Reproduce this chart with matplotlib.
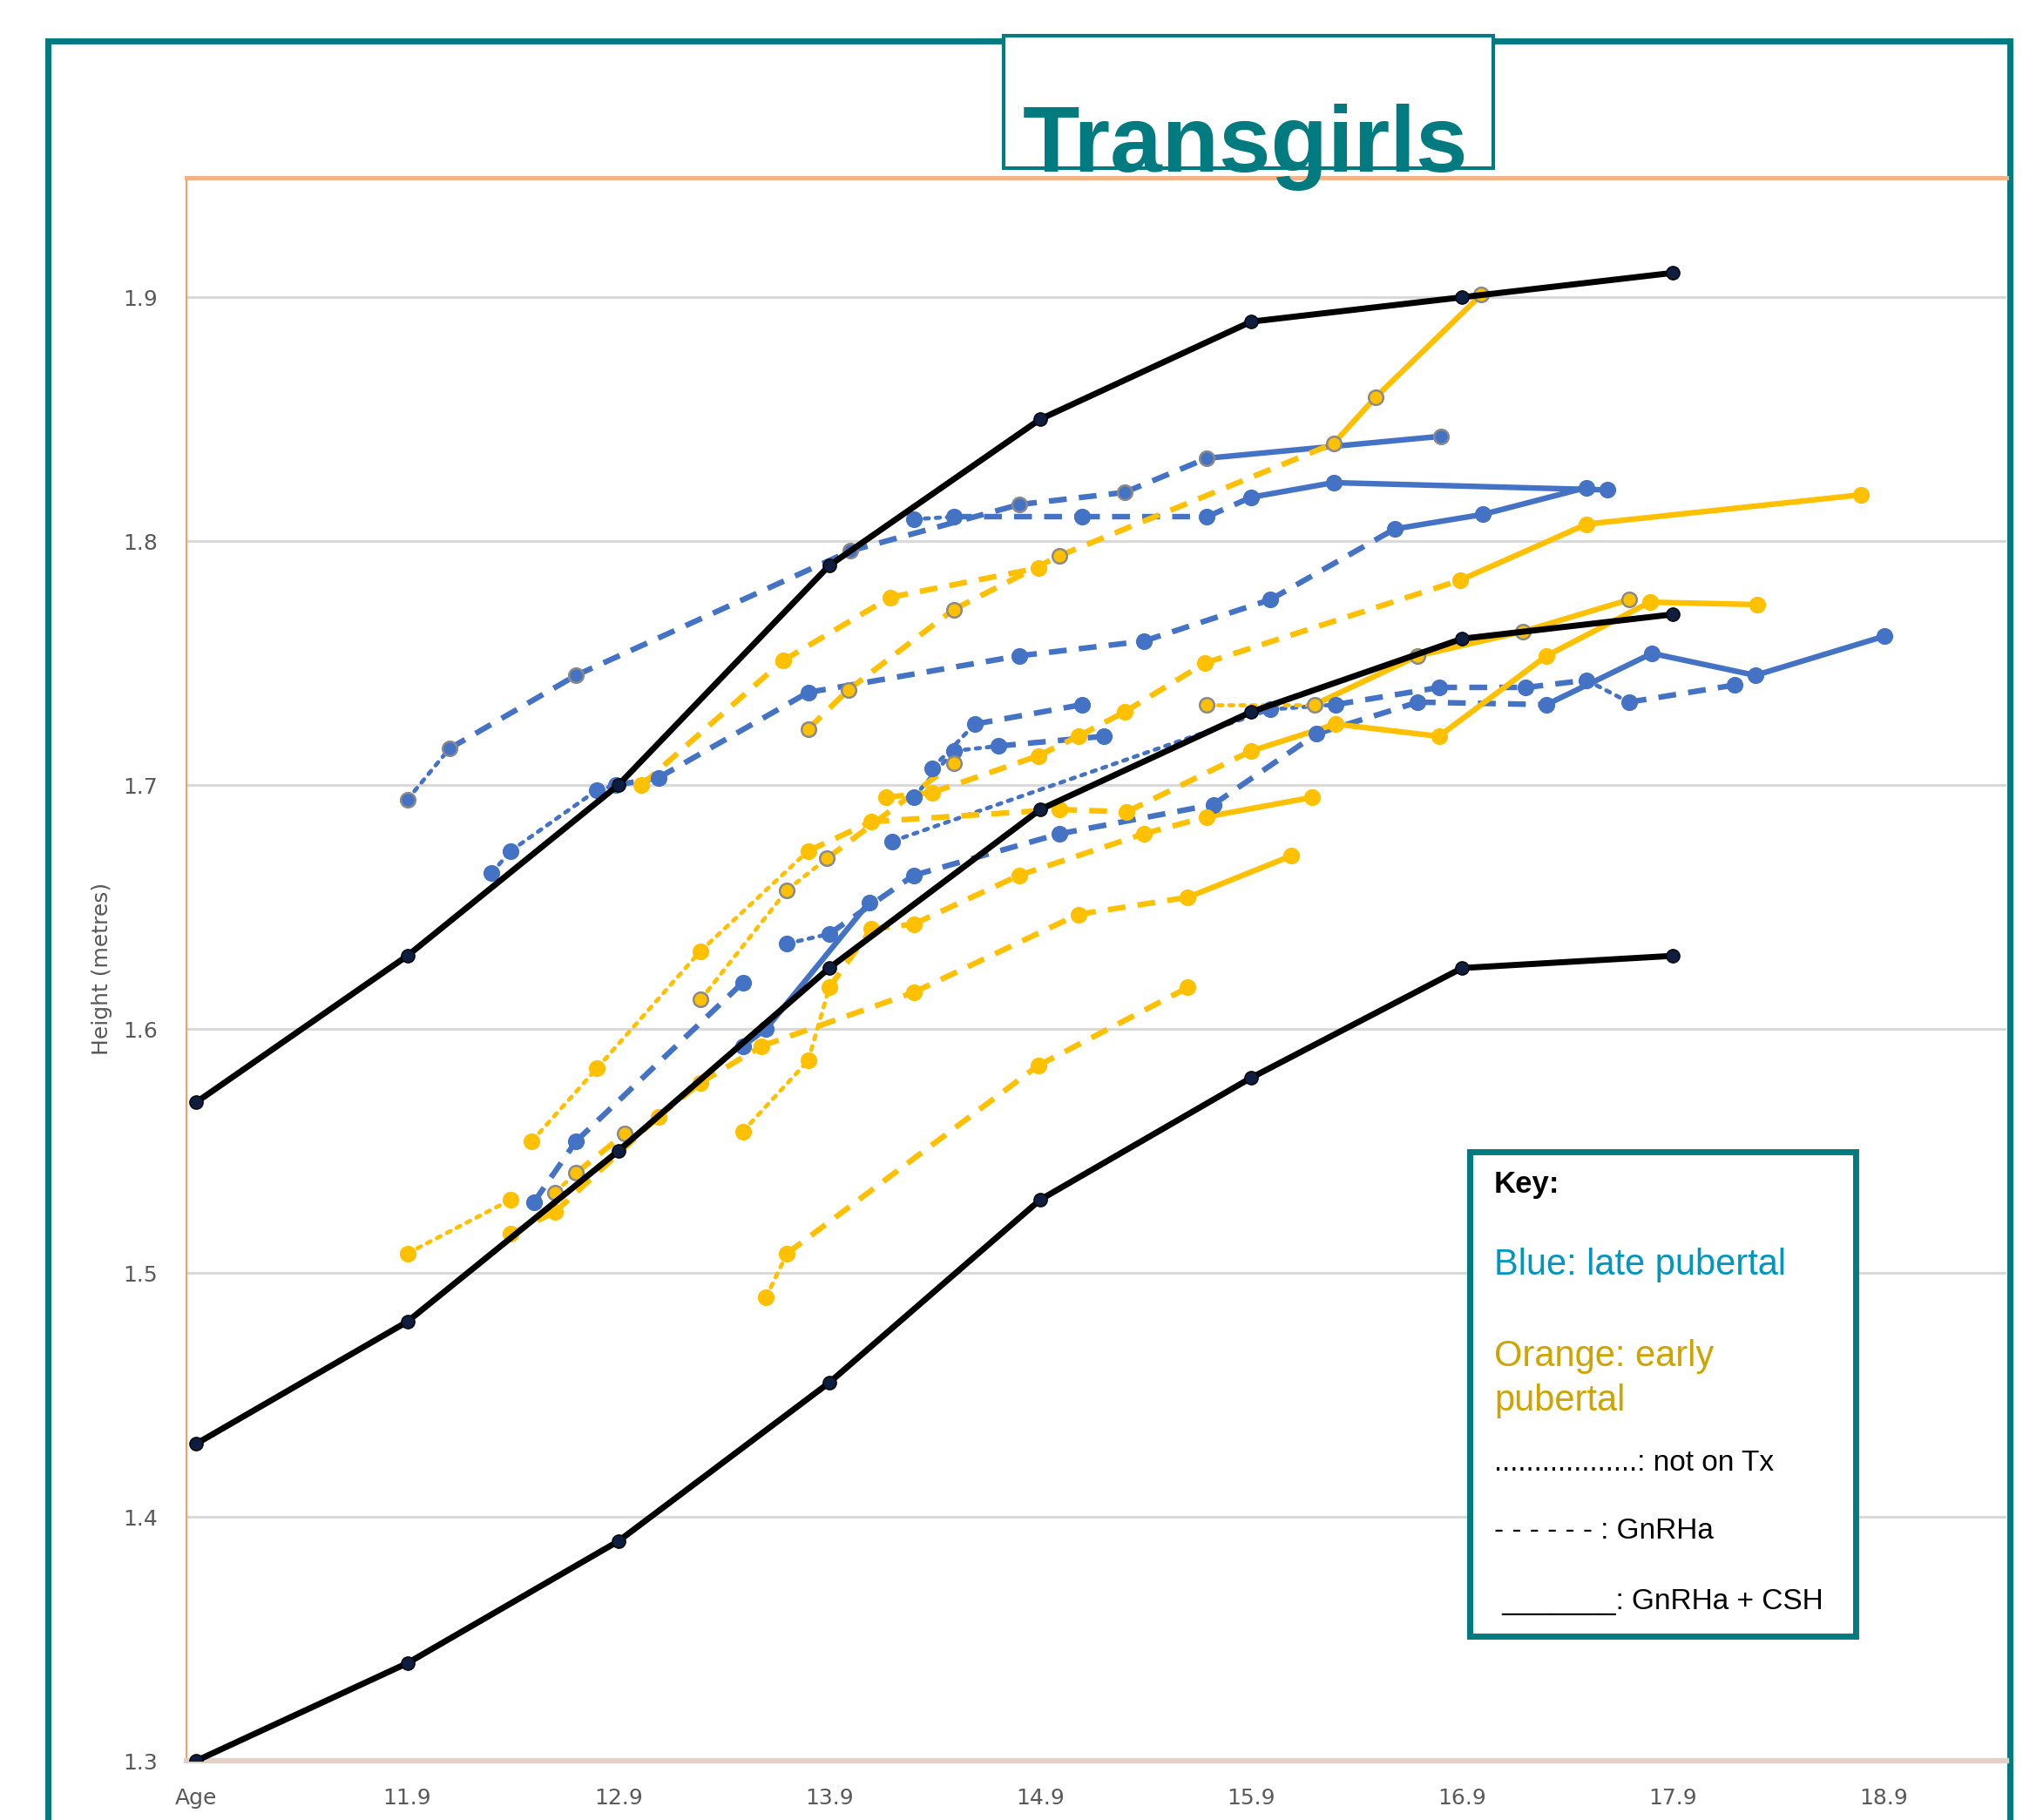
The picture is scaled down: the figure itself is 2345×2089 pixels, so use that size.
import matplotlib
matplotlib.use("Agg")
import matplotlib.pyplot as plt
from matplotlib.patches import Rectangle

# ---- data (age in years, height in metres) ----
ref_age = [10.9, 11.9, 12.9, 13.9, 14.9, 15.9, 16.9, 17.9]
ref_high = [1.57, 1.63, 1.70, 1.79, 1.85, 1.89, 1.90, 1.91]
ref_mid = [1.43, 1.48, 1.55, 1.625, 1.69, 1.73, 1.76, 1.77]
ref_low = [1.30, 1.34, 1.39, 1.455, 1.53, 1.58, 1.625, 1.63]

# late pubertal (blue)
b1_age = [11.9, 12.1, 12.7, 14.0, 14.8, 15.3, 15.69, 16.8]
b1_h = [1.694, 1.715, 1.745, 1.796, 1.815, 1.820, 1.834, 1.843]
b2_age = [14.3, 14.49, 15.1, 15.69, 15.9, 16.29, 17.59]
b2_h = [1.809, 1.810, 1.810, 1.810, 1.818, 1.824, 1.821]
b3_age = [12.3, 12.39, 12.8, 12.89, 13.09, 13.8, 14.8, 15.39, 15.99, 16.58, 17.0, 17.49]
b3_h = [1.664, 1.673, 1.698, 1.700, 1.703, 1.738, 1.753, 1.759, 1.776, 1.805, 1.811, 1.822]
b4_age = [12.5, 12.7, 13.49]
b4_h = [1.529, 1.554, 1.619]
b5_age = [14.2, 15.99, 16.3, 16.79, 17.2, 17.49, 17.69, 18.19]
b5_h = [1.677, 1.731, 1.733, 1.740, 1.740, 1.743, 1.734, 1.741]
b6_age = [13.49, 13.6, 14.09]
b6_h = [1.593, 1.600, 1.652]
b7_age = [13.7, 13.9, 14.3, 14.99, 15.72, 16.21, 16.69, 17.3, 17.8, 18.29, 18.9]
b7_h = [1.635, 1.639, 1.663, 1.680, 1.692, 1.721, 1.734, 1.733, 1.754, 1.745, 1.761]
b8_age = [14.3, 14.49, 14.7, 15.2]
b8_h = [1.695, 1.714, 1.716, 1.720]
b9_age = [14.39, 14.59, 15.1]
b9_h = [1.707, 1.725, 1.733]

# early pubertal (orange)
o1_age = [13.01, 13.68, 14.19, 14.89]
o1_h = [1.700, 1.751, 1.777, 1.789]
o2_age = [13.8, 13.99, 14.49, 14.99, 16.29, 16.49, 16.99]
o2_h = [1.723, 1.739, 1.772, 1.794, 1.840, 1.859, 1.901]
o3_age = [14.17, 14.39, 14.89, 15.08, 15.3, 15.68, 16.89, 17.49, 18.79]
o3_h = [1.695, 1.697, 1.712, 1.720, 1.730, 1.750, 1.784, 1.807, 1.819]
o4_age = [11.9, 12.39]
o4_h = [1.508, 1.530]
o5_age = [13.6, 13.7, 14.89, 15.6]
o5_h = [1.490, 1.508, 1.585, 1.617]
o6_age = [13.49, 13.8, 13.9, 14.1, 14.3, 14.8, 15.39, 15.69, 16.19]
o6_h = [1.558, 1.587, 1.617, 1.641, 1.643, 1.663, 1.680, 1.687, 1.695]
o7_age = [12.49, 12.8, 13.29, 13.8, 14.1, 14.99, 15.31, 15.9, 16.3, 16.79, 17.3, 17.79, 18.3]
o7_h = [1.554, 1.584, 1.632, 1.673, 1.685, 1.690, 1.689, 1.714, 1.725, 1.720, 1.753, 1.775, 1.774]
o8_age = [12.39, 12.6, 13.09, 13.29, 13.58, 14.3, 15.08, 15.6, 16.09]
o8_h = [1.516, 1.525, 1.564, 1.578, 1.593, 1.615, 1.647, 1.654, 1.671]
o9_age = [12.6, 12.7, 12.93]
o9_h = [1.533, 1.541, 1.557]
o10_age = [13.29, 13.7, 13.89, 14.49]
o10_h = [1.612, 1.657, 1.670, 1.709]
o11_age = [15.69, 16.2, 16.69, 17.19, 17.69]
o11_h = [1.733, 1.733, 1.753, 1.763, 1.776]

age_ticks = [10.9, 11.9, 12.9, 13.9, 14.9, 15.9, 16.9, 17.9, 18.9]
age_labels = ["Age", "11.9", "12.9", "13.9", "14.9", "15.9", "16.9", "17.9", "18.9"]
height_ticks = [1.3, 1.4, 1.5, 1.6, 1.7, 1.8, 1.9]

TEAL = "#017A80"
BLUE = "#4472C4"
GOLD = "#FFC000"
GREY_EDGE = "#8A8A8A"

# segment styles: o = dotted (not on Tx), d = dashed (GnRHa), s = solid (GnRHa + CSH)
SEG = {
    "o": dict(lw=3.4, ls=(0, (1.0, 1.7)), dash_capstyle="round"),
    "d": dict(lw=4.6, ls=(0, (3.2, 2.2)), dash_capstyle="butt"),
    "s": dict(lw=4.6, ls="-", solid_capstyle="round"),
}

series = [
    (b1_age, b1_h, "oddddds", BLUE, GREY_EDGE),
    (b2_age, b2_h, "odddss", BLUE, BLUE),
    (b3_age, b3_h, "oooddddddss", BLUE, BLUE),
    (b4_age, b4_h, "dd", BLUE, BLUE),
    (b5_age, b5_h, "oodddod", BLUE, BLUE),
    (b6_age, b6_h, "ss", BLUE, BLUE),
    (b7_age, b7_h, "oddddddsss", BLUE, BLUE),
    (b8_age, b8_h, "ood", BLUE, BLUE),
    (b9_age, b9_h, "od", BLUE, BLUE),
    (o1_age, o1_h, "ddd", GOLD, GOLD),
    (o2_age, o2_h, "ddddss", GOLD, GREY_EDGE),
    (o3_age, o3_h, "ddddddss", GOLD, GOLD),
    (o4_age, o4_h, "o", GOLD, GOLD),
    (o5_age, o5_h, "odd", GOLD, GOLD),
    (o6_age, o6_h, "ooddddds", GOLD, GOLD),
    (o7_age, o7_h, "ooodddds" + "ssss", GOLD, GOLD),
    (o8_age, o8_h, "ddddddds", GOLD, GOLD),
    (o9_age, o9_h, "od", GOLD, GREY_EDGE),
    (o10_age, o10_h, "ood", GOLD, GREY_EDGE),
    (o11_age, o11_h, "osss", GOLD, GREY_EDGE),
]


def draw_series(ax, xs, ys, styles, color, edge):
    for i, st in enumerate(styles):
        ax.plot(xs[i:i + 2], ys[i:i + 2], color=color, zorder=3, **SEG[st])
    ax.plot(xs, ys, "o", ls="none", ms=12, mfc=color, mec=edge, mew=1.8, zorder=4)


fig = plt.figure(figsize=(23.45, 20.89), dpi=100)
W, H = 2345, 2089

# outer teal frame
fig.add_artist(Rectangle((55 / W, -0.05), (2307 - 55) / W, 1 - 47 / H + 0.05,
                         transform=fig.transFigure, fill=False, ec=TEAL, lw=5, zorder=-1))

ax = fig.add_axes([214 / W, 1 - 2021 / H, (2303 - 214) / W, (2021 - 204) / H])
ax.set_facecolor("none")

for hs in (ref_high, ref_mid, ref_low):
    ax.plot(ref_age, hs, color="black", lw=5.0, zorder=5)
    ax.plot(ref_age, hs, "o", ls="none", ms=11, mfc="#0F1E3F", mec="black", mew=1, zorder=6)

for xs, ys, st, col, edge in series:
    draw_series(ax, xs, ys, st, col, edge)

ax.set_xlim(10.853, 19.48)
ax.set_ylim(1.3, 1.949)
ax.set_xticks(age_ticks)
ax.set_xticklabels(age_labels)
ax.set_yticks(height_ticks)
ax.set_yticklabels([f"{v:.1f}" for v in height_ticks])
tick_font = ["Liberation Sans Narrow", "DejaVu Sans"]
for lab in ax.get_xticklabels() + ax.get_yticklabels():
    lab.set_family(tick_font)
    lab.set_fontsize(18)
    lab.set_color("#595959")
ax.tick_params(axis="x", length=0, pad=22)
ax.tick_params(axis="y", length=0, pad=24)
ax.yaxis.grid(True, color="#D9D9D9", lw=2.2, zorder=0)
ax.set_axisbelow(True)

ax.spines["right"].set_visible(False)
ax.spines["top"].set_color("#F4B183")
ax.spines["top"].set_linewidth(3.5)
ax.spines["left"].set_color("#F2A065")
ax.spines["left"].set_linewidth(1.5)
ax.spines["bottom"].set_color("#E2D0C4")
ax.spines["bottom"].set_linewidth(4.5)

fig.text(117 / W, 1 - 1112 / H, "Height (metres)", rotation=90, ha="center", va="center",
         fontsize=18, color="#595959")

# title box
fig.add_artist(Rectangle((1152 / W, 1 - 193 / H), 562 / W, 152 / H, transform=fig.transFigure,
                         fc="white", ec=TEAL, lw=3, zorder=5))
fig.text(1174 / W, 1 - 197 / H, "Transgirls", fontsize=77, fontweight="bold", color=TEAL,
         family="Liberation Sans", ha="left", va="baseline", zorder=6)

# key box
fig.add_artist(Rectangle((1687 / W, 1 - 1878 / H), 443 / W, 556 / H, transform=fig.transFigure,
                         fc="white", ec=TEAL, lw=5, zorder=5))
kx = 1715 / W
key_font = "Liberation Sans"
fig.text(kx, 1 - 1359 / H, "Key:", fontsize=25, fontweight="bold", color="black",
         family=key_font, va="center", zorder=6)
fig.text(kx, 1 - 1452 / H, "Blue: late pubertal", fontsize=30, color="#0096BF",
         family=key_font, va="center", zorder=6)
fig.text(kx, 1 - 1557 / H, "Orange: early", fontsize=30, color="#CFA300",
         family=key_font, va="center", zorder=6)
fig.text(kx, 1 - 1608 / H, "pubertal", fontsize=30, color="#CFA300",
         family=key_font, va="center", zorder=6)
fig.text(kx, 1 - 1679 / H, "..................: not on Tx", fontsize=24, color="black",
         family=key_font, va="center", zorder=6)
fig.text(kx, 1 - 1757 / H, "- - - - - - : GnRHa", fontsize=24, color="black",
         family=key_font, va="center", zorder=6)
fig.text(kx, 1 - 1838 / H, " _______: GnRHa + CSH", fontsize=24, color="black",
         family=key_font, va="center", zorder=6)

fig.savefig("out.png", dpi=100, facecolor="white")
